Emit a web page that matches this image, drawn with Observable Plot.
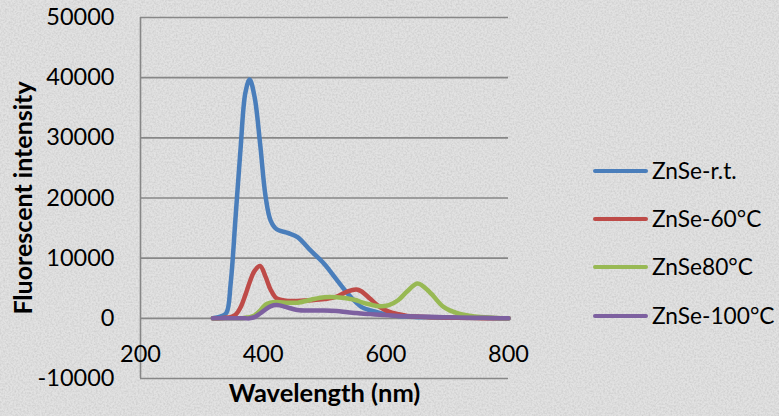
<!DOCTYPE html>
<html>
<head>
<meta charset="utf-8">
<script src="https://cdn.jsdelivr.net/npm/d3@7"></script>
<script src="https://cdn.jsdelivr.net/npm/@observablehq/plot@0.6"></script>
<style>
  html, body { margin: 0; padding: 0; }
  body { width: 779px; height: 416px; overflow: hidden; position: relative; background: #e2e2e2; font-family: Lato, "Open Sans", sans-serif; }
  #bg { position: absolute; left: 0; top: 0; }
  #chart { position: absolute; left: 0; top: 0; }
  #legend { position: absolute; left: 0; top: 0; }
  .item { position: absolute; left: 593px; height: 0; }
  .swatch { position: absolute; left: 0; width: 55px; height: 4px; border-radius: 2px; }
  .lab { position: absolute; left: 59px; top: -14px; font-size: 22.7px; color: #000; white-space: nowrap; line-height: 28px; }
</style>
</head>
<body>
<svg id="bg" width="779" height="416">
  <filter id="noise"><feTurbulence type="fractalNoise" baseFrequency="0.55" numOctaves="2" seed="3"/><feColorMatrix type="matrix" values="0 0 0 0 0.5  0 0 0 0 0.5  0 0 0 0 0.5  0 0 0 -1.6 1.05"/></filter>
  <rect width="779" height="416" fill="#e2e2e2"/>
  <rect width="779" height="416" filter="url(#noise)" opacity="0.6"/>
</svg>
<div id="chart"></div>
<div id="legend"></div>
<script>
const wavelengths = [318, 330, 340, 347, 355, 363, 371, 378, 386, 395, 404, 412, 422, 440, 456, 478, 500, 520, 538, 552, 560, 575, 590, 605, 620, 635, 652, 672, 694, 718, 745, 775, 800];
const seriesNames = ["ZnSe-r.t.", "ZnSe-60°C", "ZnSe80°C", "ZnSe-100°C"];
const rtValues   = [0, 300, 900, 5800, 16800, 28000, 37500, 39700, 36800, 29000, 20200, 16300, 14800, 14200, 13500, 11200, 9000, 6400, 4100, 2600, 1900, 1300, 900, 600, 400, 300, 200, 150, 100, 80, 50, 30, 0];
const c60Values  = [0, 0, 100, 200, 600, 1800, 3900, 6000, 7900, 8700, 6900, 4800, 3300, 2900, 2900, 3000, 3200, 3600, 4500, 4800, 4500, 3200, 1900, 1100, 700, 400, 300, 200, 150, 100, 50, 20, 0];
const c80Values  = [0, 0, 0, 0, 0, 0, 100, 200, 500, 1300, 2300, 2600, 2700, 2600, 2600, 3100, 3500, 3500, 3300, 3000, 2700, 2300, 2000, 2200, 3000, 4500, 5800, 4300, 1900, 800, 300, 100, 0];
const c100Values = [0, 0, 0, 0, 0, 0, 0, 0, 200, 800, 1500, 2000, 2200, 1800, 1400, 1300, 1300, 1200, 1000, 900, 800, 700, 600, 500, 400, 350, 300, 250, 200, 150, 100, 50, 0];
const xTicks = [200, 400, 600, 800];
const yTicks = [-10000, 0, 10000, 20000, 30000, 40000, 50000];
const colors = ["#4a7ebb", "#be4b48", "#98b954", "#7d60a0"];

const allValues = [rtValues, c60Values, c80Values, c100Values];
const data = [];
seriesNames.forEach((name, s) => {
  wavelengths.forEach((w, i) => data.push({series: name, nm: w, value: allValues[s][i]}));
});

const chart = Plot.plot({
  width: 779,
  height: 416,
  marginLeft: 140,
  marginRight: 271,
  marginTop: 17,
  marginBottom: 38,
  style: {background: "transparent", fontFamily: "Lato, 'Open Sans', sans-serif", fontSize: "23.5px", color: "#000"},
  x: {domain: [200, 800], axis: null},
  y: {domain: [-10000, 50000], axis: null},
  color: {domain: seriesNames, range: colors},
  marks: [
    Plot.gridY(yTicks, {stroke: "#878787", strokeOpacity: 1, strokeWidth: 1.6}),
    Plot.ruleX([200], {stroke: "#878787", strokeWidth: 1.6}),
    Plot.axisY(yTicks, {tickSize: 0, tickPadding: 26, fontSize: 23.5, label: null, tickFormat: d => String(d)}),
    Plot.text(xTicks, {x: d => d, y: 0, dy: 36, text: d => String(d), fontSize: 23.5}),
    Plot.line(data, {x: "nm", y: "value", z: "series", stroke: "series", strokeWidth: 4.5, curve: "catmull-rom", strokeLinecap: "round", strokeLinejoin: "round"}),
    Plot.text(["Wavelength (nm)"], {frameAnchor: "bottom", dy: 23, fontWeight: "bold", fontSize: 25.5}),
    Plot.text(["Fluorescent intensity"], {frameAnchor: "left", textAnchor: "middle", rotate: -90, dx: -117, dy: 0, fontWeight: "bold", fontSize: 25})
  ]
});
document.getElementById("chart").appendChild(chart);

const legend = document.getElementById("legend");
const legendY = [171, 219, 267, 316];
seriesNames.forEach((name, i) => {
  const item = document.createElement("div");
  item.className = "item";
  item.style.top = legendY[i] + "px";
  const sw = document.createElement("div");
  sw.className = "swatch";
  sw.style.background = colors[i];
  sw.style.top = "-2px";
  const lab = document.createElement("div");
  lab.className = "lab";
  lab.textContent = name;
  item.appendChild(sw);
  item.appendChild(lab);
  legend.appendChild(item);
});
</script>
</body>
</html>
